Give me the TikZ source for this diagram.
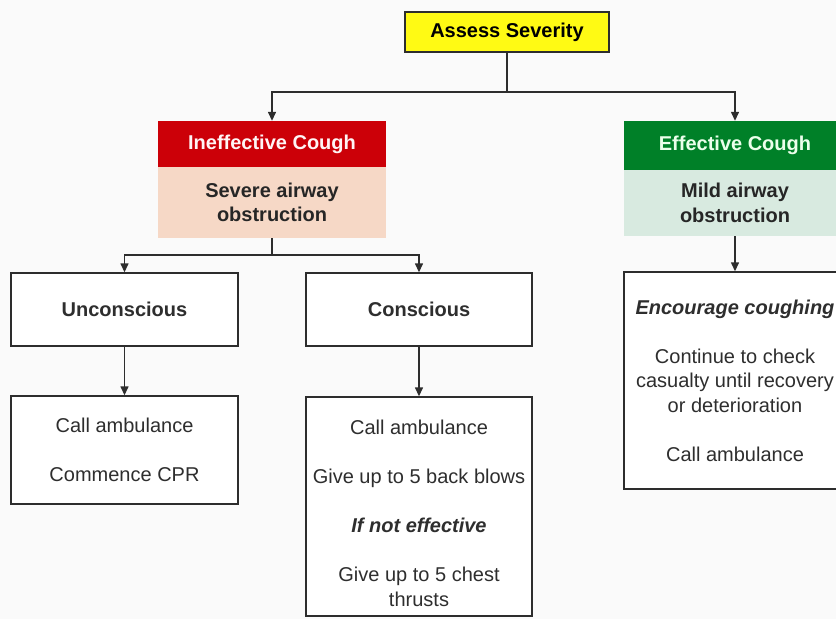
\documentclass[tikz,border=0pt]{standalone}
\usepackage{fontspec}
\setmainfont{Liberation Sans}
\usetikzlibrary{arrows.meta, backgrounds}

\definecolor{coughred}{RGB}{204,0,8}
\definecolor{coughgreen}{RGB}{0,128,40}
\definecolor{severepink}{RGB}{246,216,198}
\definecolor{mildgreen}{RGB}{216,234,224}
\definecolor{assessyellow}{RGB}{255,250,20}
\definecolor{linegray}{RGB}{45,45,45}

\begin{document}
\begin{tikzpicture}
  [
    x = 1pt, y = -1pt,
    every node/.style = {font=\fontsize{20}{24.5}\selectfont, align=center,
                         inner xsep=2pt, inner ysep=4pt, text=black!82},
    plainbox/.style = {draw=linegray, line width=1.4pt, fill=white},
    headbox/.style  = {text=white, font=\fontsize{20}{24.5}\selectfont\bfseries},
    bodybox/.style  = {font=\fontsize{20}{24.5}\selectfont\bfseries, text=black!85},
    conn/.style     = {draw=linegray, line width=1.4pt},
    arr/.style      = {conn, -{Triangle[width=8pt, length=9pt]}}
  ]
  \useasboundingbox (0,0) rectangle (836,619);
  \clip (0,0) rectangle (836,619);
  \fill[white!98!black] (0,0) rectangle (836,619);

  % top
  \node[plainbox, fill=assessyellow, minimum width=204, minimum height=40, text=black,
        font=\fontsize{20}{24.5}\selectfont\bfseries] (Assess) at (507,32) {Assess Severity};

  % ineffective branch
  \node[headbox, fill=coughred, text=red!4, minimum width=228, minimum height=46] (Ineff) at (272,144) {Ineffective Cough};
  \node[bodybox, fill=severepink, minimum width=228, minimum height=71] (IneffBody) at (272,202.5) {Severe airway\\obstruction};

  % effective branch
  \node[headbox, fill=coughgreen, text=green!8, minimum width=222, minimum height=49] (Eff) at (735,145.5) {Effective Cough};
  \node[bodybox, fill=mildgreen, minimum width=222, minimum height=66] (EffBody) at (735,203) {Mild airway\\obstruction};

  \node[plainbox, minimum width=227, minimum height=73, font=\fontsize{20}{24.5}\selectfont\bfseries] (Uncon) at (124.5,309.5) {Unconscious};
  \node[plainbox, minimum width=226, minimum height=73, font=\fontsize{20}{24.5}\selectfont\bfseries] (Con) at (419,309.5) {Conscious};

  \node[plainbox, minimum width=227, minimum height=108] (UnconAct) at (124.5,450) {Call ambulance\\[24.5pt]Commence CPR};
  \node[plainbox, minimum width=226, minimum height=219] (ConAct) at (419,506.5)
    {\rule{0pt}{28pt}Call ambulance\\[24.5pt]Give up to 5 back blows\\[24.5pt]\textbf{\textit{If not effective}}\\[24.5pt]Give up to 5 chest\\thrusts};
  \node[plainbox, minimum width=222, minimum height=217] (EffAct) at (735,380.5)
    {\textbf{\textit{Encourage coughing}}\\[24.5pt]Continue to check\\casualty until recovery\\or deterioration\\[24.5pt]Call ambulance};

  \coordinate (Split1) at (507,92);
  \coordinate (Split2) at (272,255);

  \draw[conn] (Assess.south) -- (Split1);
  \draw[arr] (Split1) -| (Ineff.north);
  \draw[arr] (Split1) -| (Eff.north);
  \draw[conn] (IneffBody.south) -- (Split2);
  \draw[arr] (Split2) -| (Uncon.north);
  \draw[arr] (Split2) -| (Con.north);
  \draw[arr] (Uncon.south) -- (UnconAct.north);
  \draw[arr] (Con.south) -- (ConAct.north);
  \draw[arr] (EffBody.south) -- (EffAct.north);
\end{tikzpicture}
\end{document}
